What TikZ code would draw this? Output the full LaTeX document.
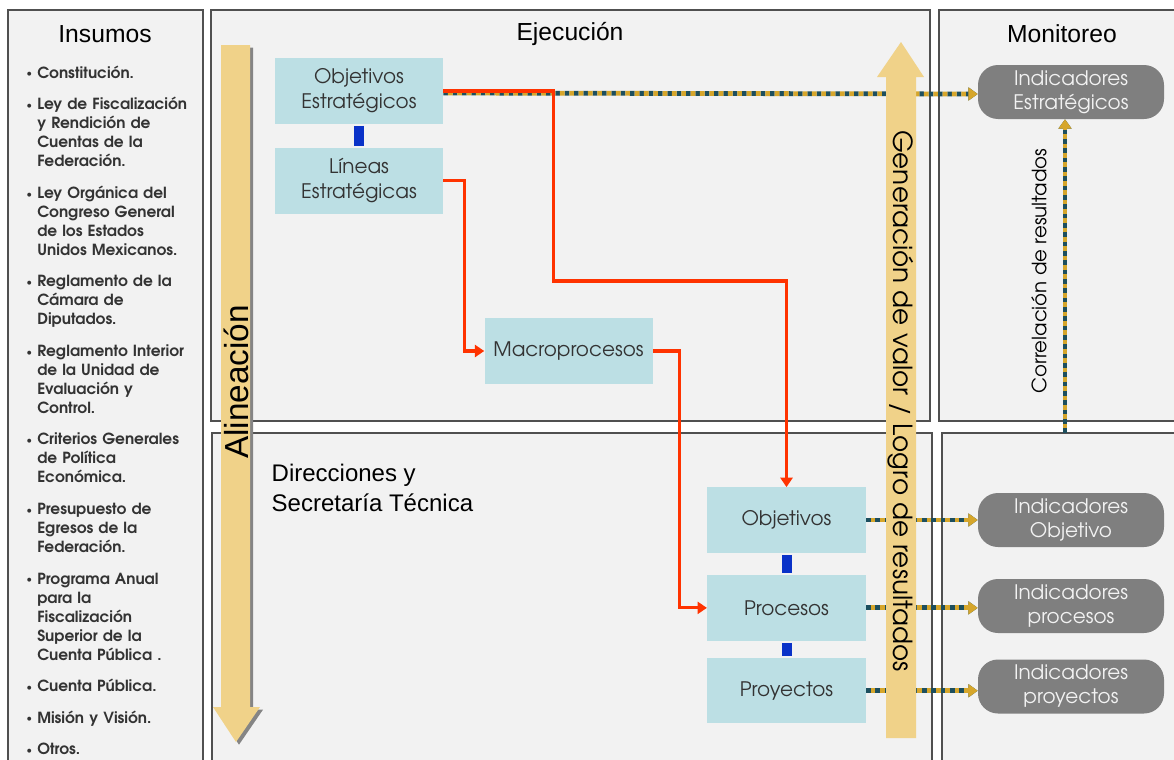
\documentclass[tikz,border=0pt]{standalone}
\usepackage{fontspec}
\setmainfont{Liberation Sans}
\newfontfamily\gotica{TeX Gyre Adventor}
\usepackage{enumitem}
\usetikzlibrary{positioning, arrows.meta}

\definecolor{panel}{HTML}{F2F2F2}
\definecolor{borde}{HTML}{505050}
\definecolor{celeste}{HTML}{BCDFE4}
\definecolor{paja}{HTML}{F0D289}
\definecolor{rojo}{HTML}{FF3300}
\definecolor{azulon}{HTML}{0A32C8}
\definecolor{gris}{HTML}{7F7F7F}
\definecolor{oro}{HTML}{D6A62B}
\definecolor{petroleo}{HTML}{1D4F5E}
\definecolor{texto}{HTML}{333333}

\begin{document}
\begin{tikzpicture}[x=0.75pt, y=-0.75pt,
    marco/.style={draw=borde, fill=panel, line width=1pt},
    caja/.style={rectangle, fill=celeste, text=texto, minimum width=126pt, minimum height=49pt, align=center, font=\gotica\fontsize{15}{18.75}\selectfont},
    indicador/.style={rectangle, rounded corners=15pt, fill=gris, text=white!90!gris, minimum width=139.5pt, minimum height=40.5pt, align=center, font=\gotica\fontsize{15}{18}\selectfont},
    titulo/.style={font=\fontsize{18.5}{22}\selectfont},
    flujo/.style={draw=rojo, line width=2.3pt, -{Triangle[length=7pt,width=9pt]}},
    enlace/.style={draw=azulon, line width=7.5pt, shorten <=1.5pt, shorten >=1.5pt},
    puntos/.style={draw=oro, line width=3.6pt, dash pattern=on 3.5pt off 3.5pt, dash phase=3.5pt,
        preaction={draw=petroleo, line width=3.6pt, dash pattern=on 3.5pt off 3.5pt, dash phase=0pt},
        -{Triangle[length=7pt,width=9.5pt]}}
  ]
  \useasboundingbox (0,0) rectangle (1174,760);
  \clip (0,0) rectangle (1174,760);
  \fill[white] (0,0) rectangle (1174,760);

  % paneles
  \draw[marco] (8,10) rectangle (203,775);
  \draw[marco] (211,10) rectangle (930,421);
  \draw[marco] (212,433) rectangle (932,775);
  \draw[marco] (939,10) rectangle (1185,421);
  \draw[marco] (942,433) rectangle (1185,775);

  \node[titulo] (tins) at (105,34) {Insumos};
  \node[titulo] (tejec) at (570,34) {Ejecución};
  \node[titulo] (tmon) at (1062,34) {Monitoreo};

  % insumos
  \node[anchor=north west, text width=200pt, inner sep=0pt, align=left, text=texto,
        font=\gotica\bfseries\fontsize{11.5}{14.25}\selectfont] (lista) at (27,59) {%
    \begin{itemize}[leftmargin=7.5pt, labelsep=4pt, itemsep=9.4pt, parsep=0pt, topsep=0pt,
                    label={\raisebox{1pt}{\fontsize{7}{7}\selectfont\textbullet}}]
      \item Constitución.
      \item Ley de Fiscalización\\ y Rendición de\\ Cuentas de la\\ Federación.
      \item Ley Orgánica del\\ Congreso General\\ de los Estados\\ Unidos Mexicanos.
      \item Reglamento de la\\ Cámara de\\ Diputados.
      \item Reglamento Interior\\ de la Unidad de\\ Evaluación y\\ Control.
      \item Criterios Generales\\ de Política\\ Económica.
      \item Presupuesto de\\ Egresos de la\\ Federación.
      \item Programa Anual\\ para la\\ Fiscalización\\ Superior de la\\ Cuenta Pública .
      \item Cuenta Pública.
      \item Misión y Visión.
      \item Otros.
    \end{itemize}};

  \node[anchor=north west, align=left, font=\fontsize{18}{22.5}\selectfont] (direc) at (267,459) {Direcciones y\\Secretaría Técnica};

  % alineacion
  \fill[borde!70, xshift=2.25pt, yshift=-2pt] (221,45) -- (250,45) -- (250,707) -- (260,707) -- (236,742) -- (213,707) -- (221,707) -- cycle;
  \fill[paja] (221,45) -- (250,45) -- (250,707) -- (260,707) -- (236,742) -- (213,707) -- (221,707) -- cycle;
  \node[rotate=90, font=\fontsize{25}{25}\selectfont] (alin) at (236,382) {Alineación};

  % ejecucion
  \node[caja] (objest) at (359,91) {Objetivos\\Estratégicos};
  \node[caja, below=18pt of objest] (lineas) {Líneas\\Estratégicas};
  \node[caja] (macro) at (568.5,351) {Macroprocesos};
  \node[caja, minimum width=119pt] (obj) at (786.5,520) {Objetivos};
  \node[caja, minimum width=119pt, below=16.5pt of obj] (proc) {Procesos};
  \node[caja, minimum width=119pt, below=12.75pt of proc] (proy) {Proyectos};

  % monitoreo
  \node[indicador] (indest) at (1071,92) {Indicadores\\Estratégicos};
  \node[indicador] (indobj) at (1071,520) {Indicadores\\Objetivo};
  \node[indicador] (indproc) at (1071,606) {Indicadores\\procesos};
  \node[indicador] (indproy) at (1071,686.5) {Indicadores\\proyectos};

  \draw[puntos] ([yshift=-1.5pt]objest.east) -- ([yshift=-1.5pt]indest.west);
  \draw[puntos] (obj.east) -- (obj.east -| indobj.west);
  \draw[puntos] (proc.east) -- (proc.east -| indproc.west);
  \draw[puntos] (proy.east) -- (proy.east -| indproy.west);
  \coordinate (corr) at (1065,433);
  \draw[puntos] (corr) -- (corr |- indest.south);
  \node[rotate=90, font=\gotica\fontsize{14.8}{14.8}\selectfont] (corrtxt) at (1039,271) {Correlación de resultados};

  \draw[flujo] (objest.east) -- ++(82.5pt,0) -- ++(0,-142.5pt) -| (obj.north);
  \draw[flujo] (lineas.east) -- ++(15.75pt,0) |- (macro.west);
  \draw[flujo] (macro.east) -- ++(20.25pt,0) |- (proc.west);

  \draw[enlace] (objest) -- (lineas);
  \draw[enlace] (obj) -- (proc);
  \draw[enlace] (proc) -- (proy);

  % generacion de valor
  \fill[paja] (886,738) -- (886,77) -- (877,77) -- (901,42) -- (924,77) -- (916,77) -- (916,738) -- cycle;
  \node[rotate=-90, font=\gotica\fontsize{19.7}{19.7}\selectfont] (gen) at (901,401) {Generación de valor / Logro de resultados};
\end{tikzpicture}
\end{document}
